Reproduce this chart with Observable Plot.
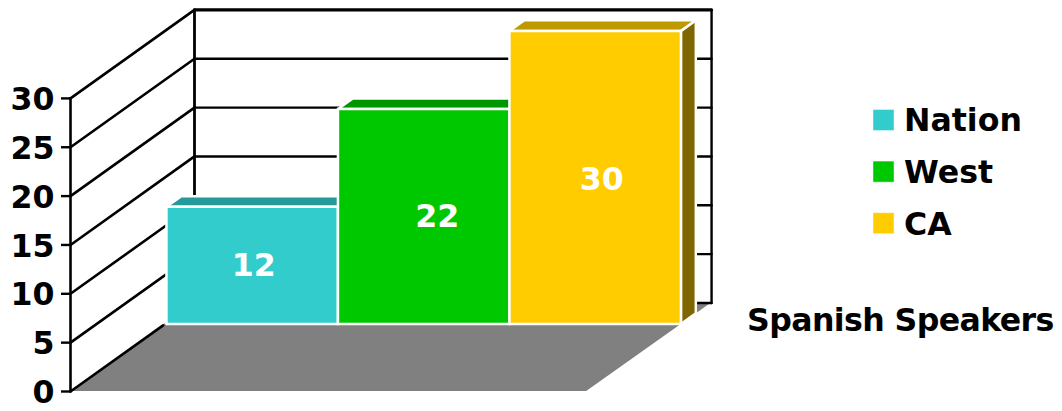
<!DOCTYPE html>
<html>
<head>
<meta charset="utf-8">
<script src="https://cdn.jsdelivr.net/npm/d3@7"></script>
<script src="https://cdn.jsdelivr.net/npm/@observablehq/plot@0.6"></script>
<style>
html,body{margin:0;padding:0;background:#fff;overflow:hidden}
svg{display:block}
</style>
</head>
<body>
<div id="chart"></div>
<script>
const categories = ["Nation", "West", "CA"];
const values = [12, 22, 30];
const yTicks = [0, 5, 10, 15, 20, 25, 30];
const colors = ["#33CCCC", "#00C800", "#FFCC00"];
const topColors = ["#269999", "#009600", "#BF9900"];
const sideColors = ["#1A6666", "#006400", "#806600"];
const chartLabel = "Spanish Speakers";

// Pseudo-3D projection, in scale units
const depthX = 0.723, depthY = 9.06;      // shift of one full depth
const barDepth = 0.757, barThick = 0.12;  // bar plane, bar thickness
const floorW = 3.01, wallW = 3.015;       // floor and wall widths
const barGap = 0.015;
const yMax = 30;
const P = (u, v, d) => ({x: u + d * depthX, y: v + d * depthY});
const poly = (a, b, c, d) => [
  {x1: a.x, y1: a.y, x2: d.x, y2: d.y},
  {x1: b.x, y1: b.y, x2: c.x, y2: c.y}
];
const face = (pts, fill, stroke = "none") =>
  Plot.area(poly(...pts), {x1: "x1", y1: "y1", x2: "x2", y2: "y2", fill, stroke, strokeWidth: 2.5, curve: "linear"});
const seg = (a, b, w = 2) =>
  Plot.line([a, b], {x: "x", y: "y", stroke: "#000", strokeWidth: w});

const FONT = "'DejaVu Sans', sans-serif";
const FS = 31.6;
const labelShift = [[1, 0], [13, 0], [6, 2]];
const marks = [];

// Floor
marks.push(face([P(0, 0, 0), P(floorW, 0, 0), P(wallW, 0, 1), P(0, 0, 1)], "#808080"));

// Walls
for (const t of yTicks) {
  const w = t === yMax ? 3.2 : 2.4;
  if (t > 0) marks.push(seg(P(0, t, 0), P(0, t, 1), 2.6));
  marks.push(seg(P(0, t, 1), P(wallW, t, 1), w));
}
marks.push(seg(P(0, 0, 1), P(0, yMax, 1), 2.8));
marks.push(seg(P(wallW, 0, 1), P(wallW, yMax, 1), 2.4));
marks.push(seg(P(0, 0, 0), P(0, 0, barDepth - 0.01), 2.6));

// Bars, back-to-front order left to right
values.forEach((v, i) => {
  const l = barGap + i, r = barGap + i + 1, d0 = barDepth, d1 = barDepth + barThick;
  marks.push(face([P(r, 0, d0), P(r, 0, d1), P(r, v, d1), P(r, v, d0)], sideColors[i], "#fff"));
  marks.push(face([P(l, v, d0), P(r, v, d0), P(r, v, d1), P(l, v, d1)], topColors[i], "#fff"));
  marks.push(face([P(l, 0, d0), P(r, 0, d0), P(r, v, d0), P(l, v, d0)], colors[i], "#fff"));
  const c = P((l + r) / 2, v / 2, d0);
  marks.push(Plot.text([c], {x: "x", y: "y", dx: labelShift[i][0], dy: labelShift[i][1], text: () => String(v), fill: "#fff", fontSize: FS, fontWeight: 700, fontFamily: FONT}));
});

// Front value axis: ticks, then labels
marks.push(Plot.axisY({ticks: yTicks, tickSize: 9, label: null, anchor: "left", fill: "none", stroke: "#000", strokeWidth: 2.4}));
marks.push(Plot.axisY({
  ticks: yTicks, tickSize: 0, tickPadding: 16, dy: 1.5, label: null, anchor: "left",
  fontSize: FS, fontWeight: 700, fontFamily: FONT, fill: "#000", tickFormat: d => String(d)
}));
marks.push(seg(P(0, 0, 0), P(0, yMax, 0), 2.6));

// Legend and label, placed against the frame
categories.forEach((c, i) => {
  const dy = 119.5 + i * 51.6;
  marks.push(Plot.dot([c], {frameAnchor: "top-left", dx: 813, dy, symbol: "square", r: 11.9, fill: colors[i], stroke: "#fff", strokeWidth: 0.5}));
  marks.push(Plot.text([c], {frameAnchor: "top-left", dx: 833.5, dy: 120.5 + i * 52, text: d => d, textAnchor: "start", lineAnchor: "middle", fill: "#000", fontSize: FS, fontWeight: 700, fontFamily: FONT}));
});
marks.push(Plot.text([chartLabel], {frameAnchor: "top-left", dx: 676.5, dy: 320, text: d => d, textAnchor: "start", lineAnchor: "middle", fill: "#000", fontSize: FS, fontWeight: 700, fontFamily: FONT}));

const plot = Plot.plot({
  width: 1062, height: 411,
  marginLeft: 70, marginRight: 0, marginTop: 0, marginBottom: 20,
  x: {domain: [0, 992 / 171.5], axis: null},
  y: {domain: [0, 40.02], axis: null},
  style: {background: "#fff", overflow: "visible"},
  marks
});
d3.select(plot).selectAll("text").filter(function () { return this.textContent === chartLabel; }).attr("letter-spacing", "-0.6");
document.getElementById("chart").appendChild(plot);
</script>
</body>
</html>
